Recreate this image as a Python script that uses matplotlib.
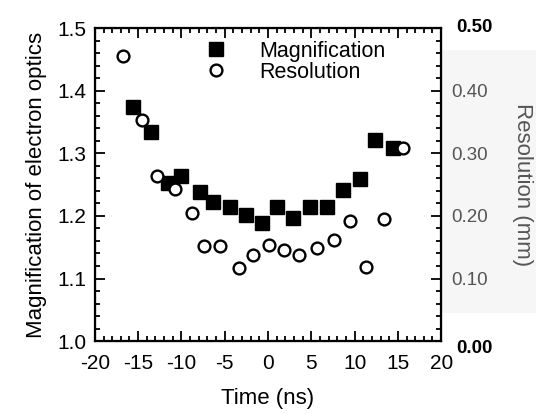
import matplotlib
matplotlib.use("Agg")
import matplotlib.pyplot as plt
from matplotlib.patches import Rectangle
from matplotlib.ticker import MultipleLocator, FixedLocator
from matplotlib.transforms import ScaledTranslation

# Magnification (squares, left axis)
mag_time = [-15.6, -13.5, -11.6, -10.0, -7.9, -6.3, -4.4, -2.5, -0.7,
            1.0, 2.9, 4.9, 6.8, 8.7, 10.6, 12.4, 14.4]
mag_value = [1.374, 1.334, 1.252, 1.264, 1.238, 1.223, 1.215, 1.202, 1.188,
             1.215, 1.196, 1.215, 1.214, 1.242, 1.259, 1.321, 1.308]

# Resolution (open circles, right axis, mm)
res_time = [-16.7, -14.6, -12.8, -10.8, -8.75, -7.4, -5.55, -3.35, -1.7,
            0.1, 1.85, 3.6, 5.7, 7.6, 9.5, 11.3, 13.4, 15.6]
res_value = [0.455, 0.353, 0.264, 0.243, 0.204, 0.152, 0.152, 0.117, 0.138,
             0.154, 0.145, 0.137, 0.149, 0.162, 0.192, 0.119, 0.195, 0.309]

x_ticks = [-20, -15, -10, -5, 0, 5, 10, 15, 20]
left_ticks = [1.0, 1.1, 1.2, 1.3, 1.4, 1.5]
right_ticks = [0.0, 0.1, 0.2, 0.3, 0.4, 0.5]

plt.rcParams["font.family"] = ["Liberation Sans", "DejaVu Sans"]

fig = plt.figure(figsize=(5.36, 4.13), dpi=100)
ax = fig.add_axes([0.177, 0.174, 0.646, 0.758])
ax2 = ax.twinx()

# light grey pasted-on strip behind the right labels
fig.patches.append(Rectangle((0.802, 0.242), 0.198, 0.637, transform=fig.transFigure,
                             facecolor="#f6f6f6", edgecolor="none", zorder=-1))

sq, = ax.plot(mag_time, mag_value, "s", color="black", markersize=9.5,
              linestyle="none", label="Magnification")
ci, = ax2.plot(res_time, res_value, "o", markerfacecolor="white",
               markeredgecolor="black", markeredgewidth=1.7, markersize=8.5,
               linestyle="none", label="Resolution")

ax.set_xlim(-20, 20)
ax.set_ylim(1.0, 1.5)
ax2.set_ylim(0.0, 0.5)

ax.xaxis.set_major_locator(FixedLocator(x_ticks))
ax.xaxis.set_minor_locator(MultipleLocator(1))
ax.yaxis.set_major_locator(FixedLocator(left_ticks))
ax.yaxis.set_minor_locator(MultipleLocator(0.02))
ax2.yaxis.set_major_locator(FixedLocator(right_ticks))
ax2.yaxis.set_minor_locator(MultipleLocator(0.02))

ax.set_xticklabels([str(t) for t in x_ticks], fontsize=15)
ax.set_yticklabels([f"{t:.1f}" for t in left_ticks], fontsize=15)
ax2.set_yticklabels([f"{t:.2f}" for t in right_ticks], fontsize=13.5)

ax.tick_params(which="both", direction="in", top=True, right=False, width=1.3)
ax.tick_params(axis="x", which="major", length=7, pad=9)
ax.tick_params(axis="y", which="major", length=7, pad=6)
ax.tick_params(which="minor", length=3.5)
ax2.tick_params(which="both", direction="in", width=1.3)
ax2.tick_params(which="major", length=7, pad=7)
ax2.tick_params(which="minor", length=3.5)

# middle right labels are grey, end ones black and bold
end_shift = {0: (4, -4), len(right_ticks) - 1: (4, 2)}
for i, lab in enumerate(ax2.get_yticklabels()):
    if i in end_shift:
        dx, dy = end_shift[i]
        lab.set_color("black")
        lab.set_fontweight("bold")
        lab.set_transform(lab.get_transform() + ScaledTranslation(dx / 72, dy / 72, fig.dpi_scale_trans))
    else:
        lab.set_color("#555555")

for sp in ax.spines.values():
    sp.set_linewidth(1.6)

ax.set_xlabel("Time (ns)", fontsize=16)
ax.xaxis.set_label_coords(0.5, -0.15)
ax.set_ylabel("Magnification of electron optics", fontsize=16)
ax.yaxis.set_label_coords(-0.137, 0.5)
ax2.set_ylabel("Resolution (mm)", fontsize=16, color="#555555", rotation=270)
ax2.yaxis.set_label_coords(1.265, 0.5)

ax2.legend(handles=[sq, ci], loc="upper left", bbox_to_anchor=(0.289, 0.96),
           frameon=False, fontsize=15.5, handlelength=2, handletextpad=1.0,
           labelspacing=0.0, borderpad=0, borderaxespad=0)

fig.savefig("out.png", dpi=100)
